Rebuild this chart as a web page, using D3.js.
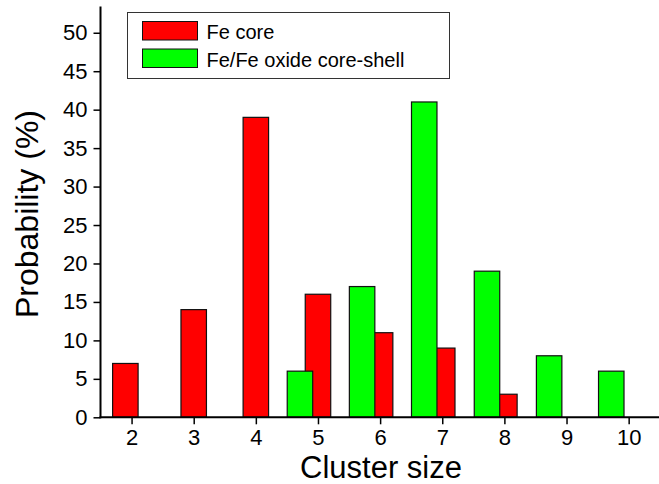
<!DOCTYPE html>
<html>
<head>
<meta charset="utf-8">
<script src="https://cdn.jsdelivr.net/npm/d3@7"></script>
<style>
  body { margin: 0; background: white; }
  svg { display: block; font-family: Arial, 'Liberation Sans', sans-serif; }
</style>
</head>
<body>
<svg id="chart" width="659" height="484"></svg>
<script>
// data
const feCoreSize = [1.9, 3, 4, 5, 6, 7, 8]
const feCoreProb = [7, 14, 39, 16, 11, 9, 3]
const shellSize = [4.71, 5.71, 6.71, 7.72, 8.72, 9.72]
const shellProb = [6, 17, 41, 19, 8, 6]
const xTicks = [2, 3, 4, 5, 6, 7, 8, 9, 10]
const yTicks = [0, 5, 10, 15, 20, 25, 30, 35, 40, 45, 50]
const seriesNames = ['Fe core', 'Fe/Fe oxide core-shell']
const seriesColors = ['#ff0000', '#00ff00']

const svg = d3.select('#chart')

const xScale = d3.scaleLinear().domain([1.5, 11]).range([100.5, 690.8])
const yScale = d3.scaleLinear().domain([0, 53.4]).range([417.3, 6.6])
const barW = 0.41

/**
 * Draws one bar series
 *
 * @param {Array} xs positions
 * @param {Array} ys values
 * @param {string} color fill colour
 */
function drawBars (xs, ys, color) {
  const data = xs.map((x, i) => ({ x: x, y: ys[i] }))
  svg.append('g')
    .selectAll('rect')
    .data(data)
    .enter()
    .append('rect')
    .attr('x', d => xScale(d.x - barW / 2))
    .attr('y', d => yScale(d.y))
    .attr('width', d => xScale(d.x + barW / 2) - xScale(d.x - barW / 2))
    .attr('height', d => yScale(0) - yScale(d.y))
    .attr('fill', color)
    .attr('stroke', '#111')
    .attr('stroke-width', 1.2)
}

drawBars(feCoreSize, feCoreProb, seriesColors[0])
drawBars(shellSize, shellProb, seriesColors[1])

// axes with minor ticks in between
const minorX = d3.range(2.5, 11, 1)
const minorY = d3.range(2.5, 53, 5)

const gx = svg.append('g').attr('transform', 'translate(0,' + yScale(0) + ')')
gx.call(d3.axisBottom(xScale).tickValues(minorX).tickSize(4).tickFormat(''))
gx.call(d3.axisBottom(xScale).tickValues(xTicks).tickSize(7).tickPadding(5).tickFormat(d3.format('d')))
gx.selectAll('.domain').remove()
gx.append('line')
  .attr('x1', xScale(1.5) - 1).attr('x2', 659)
  .attr('stroke', 'black').attr('stroke-width', 2)

const gy = svg.append('g').attr('transform', 'translate(' + xScale(1.5) + ',0)')
gy.call(d3.axisLeft(yScale).tickValues(minorY).tickSize(4).tickFormat(''))
gy.call(d3.axisLeft(yScale).tickValues(yTicks).tickSize(7).tickPadding(6).tickFormat(d3.format('d')))
gy.selectAll('.domain').remove()
gy.append('line')
  .attr('y1', yScale(53.4)).attr('y2', yScale(0) + 1)
  .attr('stroke', 'black').attr('stroke-width', 2)

svg.selectAll('.tick line').attr('stroke', 'black').attr('stroke-width', 1.5)
svg.selectAll('.tick text')
  .attr('fill', 'black')
  .style('font-size', '22px')
  .style('font-family', 'Arial, Liberation Sans, sans-serif')

// axis titles
svg.append('text')
  .attr('x', 381).attr('y', 478)
  .attr('text-anchor', 'middle')
  .style('font-size', '31px')
  .text('Cluster size')

svg.append('text')
  .attr('transform', 'translate(38,214) rotate(-90)')
  .attr('text-anchor', 'middle')
  .style('font-size', '32px')
  .text('Probability (%)')

// legend
const legend = svg.append('g')
legend.append('rect')
  .attr('x', 127.5).attr('y', 12.5)
  .attr('width', 322).attr('height', 66)
  .attr('fill', 'white')
  .attr('stroke', '#333')
  .attr('stroke-width', 1)

seriesNames.forEach(function (name, i) {
  const y = 21.5 + i * 27.5
  legend.append('rect')
    .attr('x', 142.5).attr('y', y)
    .attr('width', 55).attr('height', 18.5)
    .attr('fill', seriesColors[i])
    .attr('stroke', '#111')
  legend.append('text')
    .attr('x', 206.5).attr('y', y + 17.5)
    .style('font-size', '20px')
    .text(name)
})
</script>
</body>
</html>
